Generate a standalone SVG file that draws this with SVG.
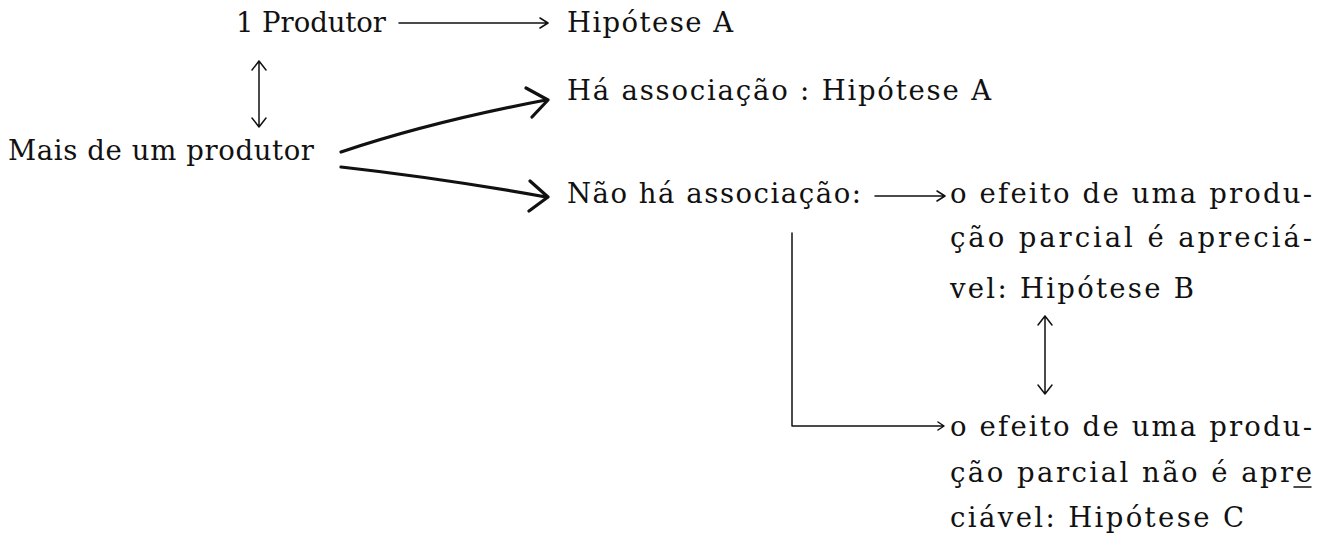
<svg xmlns="http://www.w3.org/2000/svg" width="1331" height="534" viewBox="0 0 1331 534">
<defs>
<style>
text{font-family:"DejaVu Serif","Liberation Serif",serif;font-size:27.5px;fill:#111}
.thin{fill:none;stroke:#111;stroke-width:1.5;stroke-linecap:round;stroke-linejoin:round}
.thick{fill:none;stroke:#111;stroke-width:3.2;stroke-linecap:round;stroke-linejoin:round}
</style>
</defs>
<rect width="1331" height="534" fill="#fff"/>
<g id="connectors">
<path class="thin" d="M399 23 H547 M540 18 L548 23 L540 28"/>
<path class="thin" d="M259 61 V127 M252 70 L259 61 L266 70 M252 118 L259 127 L266 118"/>
<path class="thick" d="M341 152 Q430 122 546 100 M526 88 L548 100 L532 117"/>
<path class="thick" d="M341 167 Q440 178 546 197 M530 181 L548 197 L529 211"/>
<path class="thin" d="M875 196 H944 M937 191 L945 196 L937 201"/>
<path class="thin" d="M792 233 V426 H943 M938 422 L944 426 L938 430"/>
<path class="thin" d="M1045 316 V394 M1038 325 L1045 316 L1052 325 M1038 385 L1045 394 L1052 385"/>
<path class="thin" d="M1294 487 H1311"/>
</g>
<g id="n1"><text x="236" y="32" textLength="150" lengthAdjust="spacing">1 Produtor</text></g>
<g id="n2"><text x="567" y="32" textLength="166" lengthAdjust="spacing">Hipótese A</text></g>
<g id="n3"><text x="8" y="160" textLength="306" lengthAdjust="spacing">Mais de um produtor</text></g>
<g id="n4"><text x="567" y="100" textLength="424" lengthAdjust="spacing">Há associação : Hipótese A</text></g>
<g id="n5"><text x="567" y="203" textLength="294" lengthAdjust="spacing">Não há associação:</text></g>
<g id="n6"><text x="950" y="203" textLength="362" lengthAdjust="spacing">o efeito de uma produ-</text><text x="950" y="247" textLength="362" lengthAdjust="spacing">ção parcial é apreciá-</text><text x="950" y="298" textLength="244" lengthAdjust="spacing">vel: Hipótese B</text></g>
<g id="n7"><text x="950" y="436" textLength="362" lengthAdjust="spacing">o efeito de uma produ-</text><text x="950" y="482" textLength="362" lengthAdjust="spacing">ção parcial não é apre</text><text x="950" y="527" textLength="294" lengthAdjust="spacing">ciável: Hipótese C</text></g>
</svg>
